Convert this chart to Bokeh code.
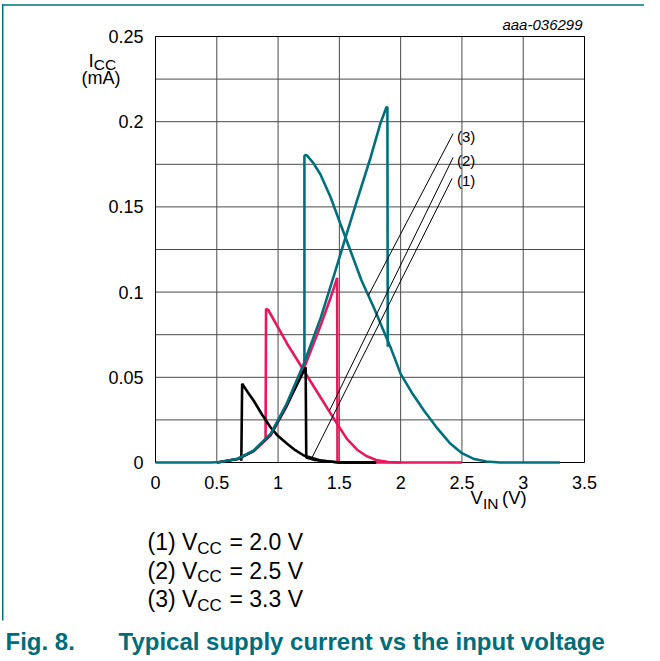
from bokeh.plotting import figure
from bokeh.models import Range1d, FixedTicker, CustomJSTickFormatter, Label, LinearAxis
from bokeh.embed import file_html
from bokeh.resources import INLINE

# ---------------- data ----------------
# VCC = 3.3 V (teal): input-rising branch, up to the switch point and drop
teal_up_v = [0.0, 0.45, 0.53, 0.67, 0.80, 0.94, 1.07, 1.21, 1.35, 1.47, 1.55, 1.645, 1.755, 1.835, 1.884, 1.892, 1.895]
teal_up_i = [0.0, 0.0, 0.0003, 0.0022, 0.007, 0.0168, 0.0344, 0.058, 0.0853, 0.113, 0.132, 0.154, 0.179, 0.199, 0.2085, 0.2085, 0.068]
# VCC = 3.3 V (teal): input-falling branch
teal_dn_v = [1.215, 1.215, 1.23, 1.25, 1.29, 1.346, 1.427, 1.509, 1.59, 1.68, 1.78, 1.917, 2.0, 2.1, 2.19, 2.3, 2.4, 2.5, 2.6, 2.7, 2.81, 3.3]
teal_dn_i = [0.058, 0.180, 0.1805, 0.179, 0.1755, 0.169, 0.156, 0.140, 0.1244, 0.107, 0.0911, 0.0677, 0.052, 0.040, 0.0305, 0.020, 0.0115, 0.0055, 0.002, 0.0006, 0.0, 0.0]

# VCC = 2.5 V (pink)
pink_up_v = [0.5, 0.67, 0.80, 0.94, 1.07, 1.21, 1.35, 1.43, 1.482, 1.485, 1.6, 2.5]
pink_up_i = [0.0, 0.002, 0.0065, 0.016, 0.033, 0.055, 0.081, 0.097, 0.1084, 0.0, 0.0, 0.0]
pink_dn_v = [0.898, 0.902, 0.92, 1.074, 1.21, 1.346, 1.482, 1.56, 1.645, 1.72, 1.8, 1.9, 2.0]
pink_dn_i = [0.013, 0.0902, 0.0895, 0.0697, 0.054, 0.0383, 0.0227, 0.014, 0.0075, 0.0038, 0.0015, 0.0003, 0.0]

# VCC = 2.0 V (black)
blk_up_v = [0.5, 0.67, 0.80, 0.94, 1.07, 1.225, 1.23, 1.3, 1.5, 1.8]
blk_up_i = [0.0, 0.002, 0.0068, 0.0165, 0.0335, 0.0559, 0.003, 0.0015, 0.0, 0.0]
blk_dn_v = [0.70, 0.707, 0.75, 0.80, 0.87, 0.938, 1.0, 1.074, 1.14, 1.21, 1.346, 1.5, 1.8]
blk_dn_i = [0.001, 0.0462, 0.0415, 0.0364, 0.028, 0.0207, 0.0155, 0.011, 0.0072, 0.0041, 0.0012, 0.0, 0.0]

# curve tags (leader lines)
tag_text = ["(1)", "(2)", "(3)"]
tag_top_v = [2.42, 2.428, 2.428]
tag_top_i = [0.1667, 0.179, 0.193]
tag_bot_v = [1.278, 1.42, 1.737]
tag_bot_i = [0.003, 0.0305, 0.098]

legend_vcc = ["2.0", "2.5", "3.3"]

x_ticks = [0, 0.5, 1, 1.5, 2, 2.5, 3, 3.5]
y_ticks = [0, 0.05, 0.1, 0.15, 0.2, 0.25]
y_grid = [0, 0.025, 0.05, 0.075, 0.1, 0.125, 0.15, 0.175, 0.2, 0.225, 0.25]
x_lim = [0, 3.5]
y_lim = [0, 0.25]

# ---------------- styling / layout ----------------
TEAL = "#00717c"
CAPTION = "#006e79"
PINK = "#e8185c"
GRID = "#4a4a4a"
FONT = "Liberation Sans"

W, H = 644, 657
# pixel positions of the chart box on the canvas
PX0, PX1, PY0, PY1 = 155, 584, 462, 36
SX = (PX1 - PX0) / (x_lim[1] - x_lim[0])
SY = (PY0 - PY1) / (y_lim[1] - y_lim[0])


def dx(px):
    return x_lim[0] + (px - PX0) / SX


def dy(py):
    return y_lim[0] + (PY0 - py) / SY


# the frame covers the whole canvas; the chart box is drawn inside it
p = figure(width=W, height=H, title=None,
           x_range=Range1d(dx(0), dx(W)), y_range=Range1d(dy(H), dy(0)),
           x_axis_type=None, y_axis_type=None,
           output_backend="svg", toolbar_location=None,
           min_border=0, background_fill_color="white", border_fill_color="white")
p.outline_line_color = None

fmt = CustomJSTickFormatter(code="return String(tick)")
xax = LinearAxis(fixed_location=y_lim[0], ticker=FixedTicker(ticks=x_ticks), formatter=fmt)
yax = LinearAxis(fixed_location=x_lim[0], ticker=FixedTicker(ticks=y_ticks), formatter=fmt)
for ax in (xax, yax):
    ax.axis_line_color = None
    ax.major_tick_line_color = None
    ax.minor_tick_line_color = None
    ax.major_tick_out = 0
    ax.major_tick_in = 0
    ax.minor_tick_out = 0
    ax.major_label_text_font = FONT
    ax.major_label_text_font_size = "18px"
    ax.major_label_text_color = "black"
xax.major_label_standoff = 13
yax.major_label_standoff = 12
p.add_layout(xax, "below")
p.add_layout(yax, "left")

# grid inside the chart box
p.segment(x0=x_ticks, y0=[y_lim[0]] * len(x_ticks), x1=x_ticks, y1=[y_lim[1]] * len(x_ticks),
          line_color=GRID, line_width=1)
p.segment(x0=[x_lim[0]] * len(y_grid), y0=y_grid, x1=[x_lim[1]] * len(y_grid), y1=y_grid,
          line_color=GRID, line_width=1)
p.quad(left=[x_lim[0]], right=[x_lim[1]], bottom=[y_lim[0]], top=[y_lim[1]],
       fill_color=None, line_color="black", line_width=1)

# curves: pink, then black, then teal on top
p.line(pink_up_v, pink_up_i, line_color=PINK, line_width=2.6)
p.line(pink_dn_v, pink_dn_i, line_color=PINK, line_width=2.6)
p.line(blk_up_v, blk_up_i, line_color="black", line_width=2.6)
p.line(blk_dn_v, blk_dn_i, line_color="black", line_width=2.6)
p.line(teal_up_v, teal_up_i, line_color=TEAL, line_width=2.6)
p.line(teal_dn_v, teal_dn_i, line_color=TEAL, line_width=2.6)

# leader lines and tags
p.segment(x0=tag_bot_v, y0=tag_bot_i, x1=tag_top_v, y1=tag_top_i, line_color="black", line_width=1)
for t, yv in zip(tag_text, tag_top_i):
    p.add_layout(Label(x=dx(456.5), y=yv - 0.0015, text=t, text_font=FONT, text_font_size="15px",
                       text_color="black", text_baseline="middle", text_align="left"))


def label(text, px, base, size, align="left", style="normal", color="black"):
    # base = baseline position in canvas pixels; place the text middle on the cap centre
    p.add_layout(Label(x=dx(px), y=dy(base - 0.35 * size), text=text, text_font=FONT,
                       text_font_size=f"{size}px", text_font_style=style, text_color=color,
                       text_align=align, text_baseline="middle"))


# id tag
label("aaa-036299", 582, 29, 15, align="right", style="italic")

# y-axis title: I_CC (mA)
label("I", 88, 67, 19)
label("CC", 93.3, 69.5, 15.5)
label("(mA)", 100.5, 84, 18, align="center")

# x-axis title: V_IN (V)
label("V", 470, 503, 18.5)
label("IN", 482.5, 508, 15.5)
label("(V)", 501.5, 503, 18.5)

# legend
for k, vcc in enumerate(legend_vcc):
    base = 550 + k * 28.3
    label(f"({k + 1}) V", 147, base, 23)
    label("CC", 196.8, base + 4, 17)
    label(f"= {vcc} V", 229, base, 23)

# caption
label("Fig. 8.", 5, 649.5, 24, style="bold", color=CAPTION)
label("Typical supply current vs the input voltage", 118, 649.5, 24, style="bold", color=CAPTION)

# figure border (top and left)
p.quad(left=[dx(1.5), dx(1.5)], right=[dx(W), dx(3.0)],
       top=[dy(3.8), dy(3.8)], bottom=[dy(5.3), dy(620)],
       fill_color=TEAL, line_color=None)

open("out.html", "w").write(file_html(p, INLINE))
